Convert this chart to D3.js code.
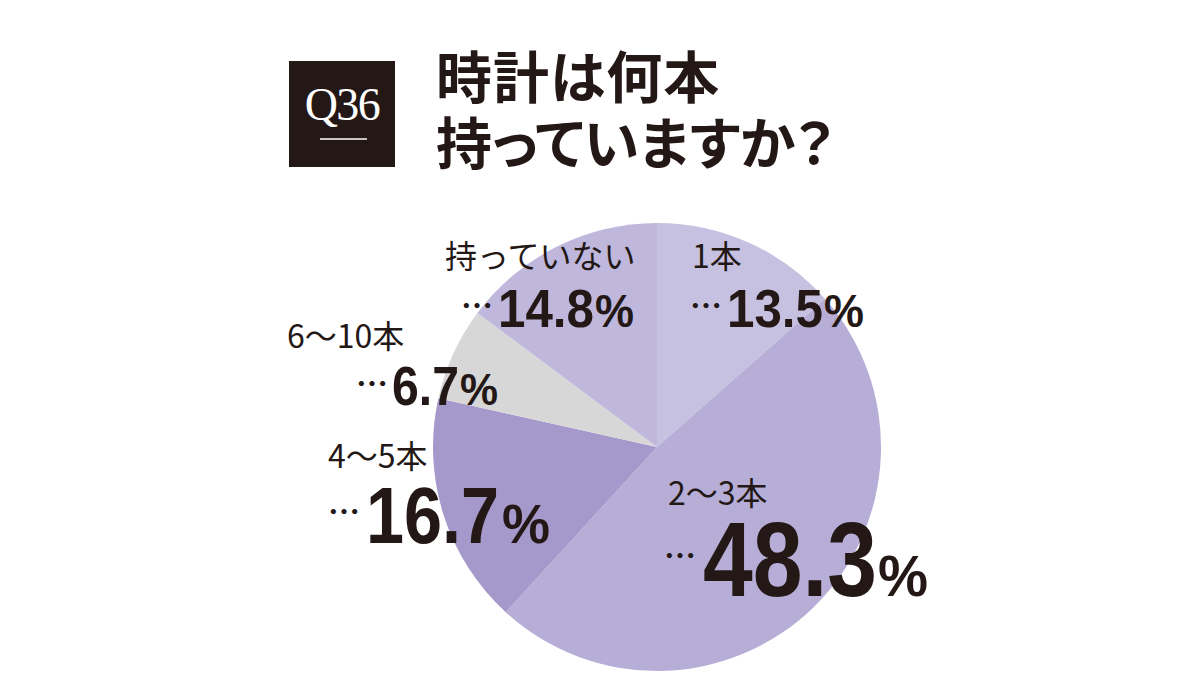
<!DOCTYPE html>
<html>
<head>
<meta charset="utf-8">
<script src="https://cdn.jsdelivr.net/npm/d3@7"></script>
<style>
  html, body { margin: 0; padding: 0; background: #fff; }
  svg { display: block; }
</style>
</head>
<body>
<svg id="chart"></svg>
<script>
(() => {

  // data
  const titleLines = ['時計は何本', '持っていますか？'];
  const questionNo = 'Q36';
  const categories = ['1本', '2～3本', '4～5本', '6～10本', '持っていない'];
  const values = [13.5, 48.3, 16.7, 6.7, 14.8];
  const sliceColors = ['#c6c1e0', '#b6aed6', '#a499ca', '#d7d7d8', '#bfb7dc'];

  // label layout, same order as categories
  const labelLayout = [
    { nx: 692, ny: 268, dx: 690, dy: 318, vx: 727, vy: 327, vs: 54, vw: 96, px: 824, ps: 46, pw: 40 },
    { nx: 668, ny: 505, dx: 664, dy: 568, vx: 703, vy: 596, vs: 106, vw: 174, px: 878, ps: 58, pw: 50 },
    { nx: 328, ny: 468, dx: 328, dy: 524, vx: 366, vy: 543, vs: 80, vw: 133, px: 502, ps: 56, pw: 48 },
    { nx: 287, ny: 348, dx: 356, dy: 396, vx: 392, vy: 405, vs: 55, vw: 67, px: 460, ps: 44, pw: 38 },
    { nx: 445, ny: 268, dx: 461, dy: 318, vx: 498, vy: 327, vs: 54, vw: 96, px: 595, ps: 46, pw: 39 }
  ];

  const ink = '#231815';
  const jp = "'Noto Sans CJK JP', 'Noto Sans', sans-serif";
  const cond = "'Liberation Sans Narrow', 'Liberation Sans', Arial, sans-serif";

  document.addEventListener('DOMContentLoaded', () => {
    drawChart();
  });

  function drawChart() {
    const svgWidth = 1200;
    const svgHeight = 700;

    const svg = d3.select('#chart')
      .attr('width', svgWidth)
      .attr('height', svgHeight);

    // question badge
    svg.append('rect')
      .attr('x', 289).attr('y', 61)
      .attr('width', 106).attr('height', 106)
      .attr('fill', ink);
    svg.append('text')
      .attr('x', 342).attr('y', 120)
      .attr('text-anchor', 'middle')
      .attr('font-family', "'Liberation Serif', 'DejaVu Serif', serif")
      .attr('font-size', 46)
      .attr('letter-spacing', -1.5)
      .attr('fill', '#fff')
      .text(questionNo);
    svg.append('line')
      .attr('x1', 320).attr('x2', 367)
      .attr('y1', 139).attr('y2', 139)
      .attr('stroke', '#fff')
      .attr('stroke-width', 1.6);

    // title
    svg.selectAll('text.title')
      .data(titleLines)
      .enter()
      .append('text')
      .attr('class', 'title')
      .attr('x', 436)
      .attr('y', (d, i) => 98 + i * 66)
      .attr('font-family', jp)
      .attr('font-weight', 700)
      .attr('font-size', 56)
      .attr('letter-spacing', (d, i) => i === 0 ? 1 : 0)
      .style('font-feature-settings', "'palt'")
      .attr('fill', ink)
      .text(d => d);

    // pie
    const cx = 657;
    const cy = 447;
    const radius = 224;

    const pie = d3.pie()
      .sort(null)
      .value(d => d)
      .startAngle(0)
      .endAngle(2 * Math.PI);

    const arc = d3.arc()
      .innerRadius(0)
      .outerRadius(radius);

    const color = d3.scaleOrdinal()
      .domain(categories)
      .range(sliceColors);

    const g = svg.append('g')
      .attr('transform', `translate(${cx},${cy})`);

    g.selectAll('path')
      .data(pie(values))
      .enter()
      .append('path')
      .attr('d', arc)
      .attr('fill', (d, i) => color(categories[i]));

    // labels
    const labels = svg.selectAll('g.label')
      .data(categories.map((name, i) => ({ name, value: values[i], pos: labelLayout[i] })))
      .enter()
      .append('g')
      .attr('class', 'label')
      .attr('fill', ink);

    labels.append('text')
      .attr('x', d => d.pos.nx)
      .attr('y', d => d.pos.ny)
      .attr('font-family', jp)
      .attr('font-size', 32)
      .attr('font-weight', 400)
      .text(d => d.name);

    // "…" + value + "%" on one text line
    const valueText = labels.append('text');

    valueText.append('tspan')
      .attr('x', d => d.pos.dx)
      .attr('y', d => d.pos.dy)
      .attr('font-family', jp)
      .attr('font-size', 32)
      .attr('font-weight', 700)
      .text('…');

    valueText.append('tspan')
      .attr('x', d => d.pos.vx)
      .attr('y', d => d.pos.vy)
      .attr('font-family', cond)
      .attr('font-weight', 700)
      .attr('font-size', d => d.pos.vs)
      .attr('textLength', d => d.pos.vw)
      .attr('lengthAdjust', 'spacingAndGlyphs')
      .text(d => d.value.toFixed(1));

    valueText.append('tspan')
      .attr('x', d => d.pos.px)
      .attr('y', d => d.pos.vy)
      .attr('font-family', cond)
      .attr('font-weight', 700)
      .attr('font-size', d => d.pos.ps)
      .attr('textLength', d => d.pos.pw)
      .attr('lengthAdjust', 'spacingAndGlyphs')
      .text('%');
  }

})();
</script>
</body>
</html>
